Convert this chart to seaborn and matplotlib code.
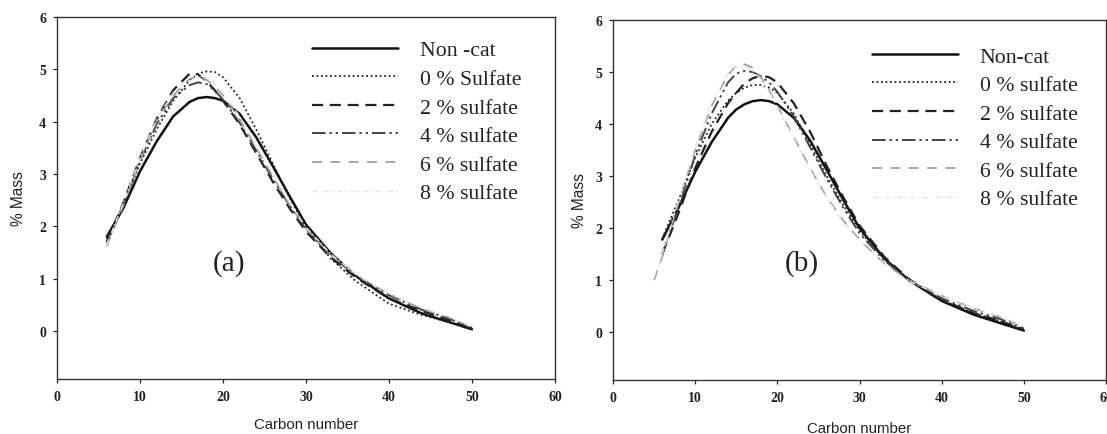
import numpy as np
import pandas as pd
import matplotlib
matplotlib.use("Agg")
import matplotlib.pyplot as plt
import seaborn as sns

sns.set_theme(style="white")
plt.rcParams["font.family"] = ["Liberation Serif", "DejaVu Serif"]

# ---- data -------------------------------------------------------------
series_names = ["Non -cat", "0 % Sulfate", "2 % sulfate", "4 % sulfate",
                "6 % sulfate", "8 % sulfate"]
series_names_b = ["Non-cat", "0 % sulfate", "2 % sulfate", "4 % sulfate",
                  "6 % sulfate", "8 % sulfate"]

carbon_a = [6, 8, 10, 12, 14, 16, 17, 18, 19, 20, 22, 24, 26, 28, 30, 33, 36, 40, 44, 47, 50]
noncat_a = [1.80, 2.35, 3.05, 3.62, 4.10, 4.38, 4.45, 4.47, 4.45, 4.40, 4.15, 3.70, 3.15, 2.58, 2.03, 1.48, 1.05, 0.62, 0.33, 0.18, 0.03]
s0_a     = [1.75, 2.40, 3.20, 3.85, 4.40, 4.80, 4.92, 4.96, 4.95, 4.85, 4.45, 3.85, 3.20, 2.55, 1.98, 1.38, 0.95, 0.52, 0.30, 0.18, 0.05]
s2_a     = [1.70, 2.45, 3.30, 4.05, 4.60, 4.92, 4.90, 4.78, 4.60, 4.40, 3.95, 3.40, 2.85, 2.35, 1.90, 1.40, 1.02, 0.62, 0.38, 0.22, 0.05]
s4_a     = [1.68, 2.42, 3.25, 3.95, 4.45, 4.70, 4.75, 4.72, 4.60, 4.42, 3.98, 3.45, 2.90, 2.40, 1.95, 1.45, 1.05, 0.68, 0.40, 0.25, 0.06]
s6_a     = [1.62, 2.40, 3.25, 4.00, 4.50, 4.82, 4.85, 4.80, 4.68, 4.50, 4.05, 3.50, 2.95, 2.42, 1.96, 1.45, 1.07, 0.70, 0.42, 0.27, 0.07]
s8_a     = [1.65, 2.45, 3.30, 4.05, 4.55, 4.85, 4.88, 4.84, 4.72, 4.55, 4.10, 3.55, 3.00, 2.45, 1.98, 1.47, 1.08, 0.72, 0.44, 0.28, 0.08]

carbon_b = [5, 6, 8, 10, 12, 14, 15, 16, 17, 18, 19, 20, 22, 24, 26, 28, 30, 33, 36, 40, 44, 47, 50]
nan = np.nan
noncat_b = [nan, 1.78, 2.40, 3.08, 3.65, 4.12, 4.28, 4.38, 4.44, 4.46, 4.44, 4.38, 4.12, 3.68, 3.12, 2.55, 2.00, 1.42, 1.00, 0.60, 0.33, 0.18, 0.03]
s0_b     = [nan, 1.80, 2.55, 3.35, 4.00, 4.45, 4.60, 4.70, 4.75, 4.75, 4.70, 4.60, 4.20, 3.60, 3.00, 2.45, 1.95, 1.40, 1.00, 0.62, 0.36, 0.22, 0.05]
s2_b     = [nan, 1.50, 2.30, 3.15, 3.85, 4.40, 4.60, 4.78, 4.88, 4.93, 4.90, 4.80, 4.40, 3.85, 3.20, 2.60, 2.05, 1.45, 1.02, 0.62, 0.36, 0.22, 0.05]
s4_b     = [nan, 1.50, 2.40, 3.40, 4.20, 4.80, 4.97, 5.02, 5.00, 4.92, 4.80, 4.62, 4.15, 3.55, 2.95, 2.40, 1.90, 1.38, 1.00, 0.65, 0.40, 0.26, 0.07]
s6_b     = [1.00, 1.45, 2.50, 3.50, 4.35, 4.95, 5.12, 5.15, 5.08, 4.90, 4.65, 4.35, 3.75, 3.15, 2.60, 2.15, 1.78, 1.32, 1.00, 0.70, 0.45, 0.30, 0.10]
s8_b     = [1.05, 1.50, 2.55, 3.55, 4.40, 4.98, 5.10, 5.10, 5.02, 4.85, 4.62, 4.32, 3.72, 3.12, 2.58, 2.12, 1.75, 1.30, 0.98, 0.70, 0.46, 0.31, 0.11]

x_ticks = [0, 10, 20, 30, 40, 50, 60]
y_ticks = [0, 1, 2, 3, 4, 5, 6]

# line appearance per series
styles = [
    dict(color="#111111", lw=1.8, ls="-"),
    dict(color="#222222", lw=1.3, ls=(0, (1, 1.5))),
    dict(color="#222222", lw=1.6, ls=(0, (5, 3))),
    dict(color="#444444", lw=1.4, ls=(0, (7, 2, 1.2, 2, 1.2, 2))),
    dict(color="#9a9a9a", lw=1.2, ls=(0, (6, 5))),
    dict(color="#e4e4e4", lw=1.0, ls=(0, (4, 2, 1, 2))),
]

fig = plt.figure(figsize=(11.07, 4.35), dpi=100)
ax_a = fig.add_axes([57 / 1107, 1 - 380 / 435, 498 / 1107, 362 / 435])
ax_b = fig.add_axes([613 / 1107, 1 - 381 / 435, 493 / 1107, 360 / 435])

sans = ["Liberation Sans", "DejaVu Sans"]


def draw_panel(ax, carbon, values, names, tag, tag_xy, leg_anchor,
               xlabelpad, ylabelpad):
    for name, vals, st in zip(names, values, styles):
        df = pd.DataFrame({"carbon": carbon, "mass": vals}).dropna()
        sns.lineplot(data=df, x="carbon", y="mass", ax=ax, label=name,
                     color=st["color"], linewidth=st["lw"], linestyle=st["ls"],
                     sort=False, estimator=None)
    ax.set_xlim(0, 60)
    ax.set_ylim(-0.92, 6)
    ax.set_xticks(x_ticks)
    ax.set_yticks(y_ticks)
    ax.tick_params(axis="both", direction="out", length=3, width=0.9,
                   colors="#222222", labelsize=10, pad=5, left=True, bottom=True)
    for lab in ax.get_xticklabels() + ax.get_yticklabels():
        lab.set_fontweight("bold")
    for sp in ax.spines.values():
        sp.set_visible(True)
        sp.set_color("#333333")
        sp.set_linewidth(1.0)
    ax.set_xlabel("Carbon number", family=sans, fontsize=10.8,
                  labelpad=xlabelpad, color="#222222")
    ax.set_ylabel("% Mass", family=sans, fontsize=11.2,
                  labelpad=ylabelpad, color="#222222")
    ax.text(tag_xy[0], tag_xy[1], tag, fontsize=21, ha="center", va="center",
            color="#222222", transform=ax.transAxes)
    leg = ax.legend(loc="upper left", bbox_to_anchor=leg_anchor, frameon=False,
                    fontsize=15.7, handlelength=3.95, handletextpad=1.0,
                    labelspacing=0.38, borderpad=0, borderaxespad=0)
    for t in leg.get_texts():
        t.set_color("#222222")


draw_panel(ax_a, carbon_a, [noncat_a, s0_a, s2_a, s4_a, s6_a, s8_a], series_names,
           "(a)", ((229 - 57) / 498, 1 - (264 - 18) / 362), (0.512, 0.936), 10, 9)
draw_panel(ax_b, carbon_b, [noncat_b, s0_b, s2_b, s4_b, s6_b, s8_b], series_names_b,
           "(b)", ((802 - 613) / 493, 1 - (264 - 21) / 360), (0.525, 0.927), 12, 6)

fig.savefig("out.png", dpi=100)
